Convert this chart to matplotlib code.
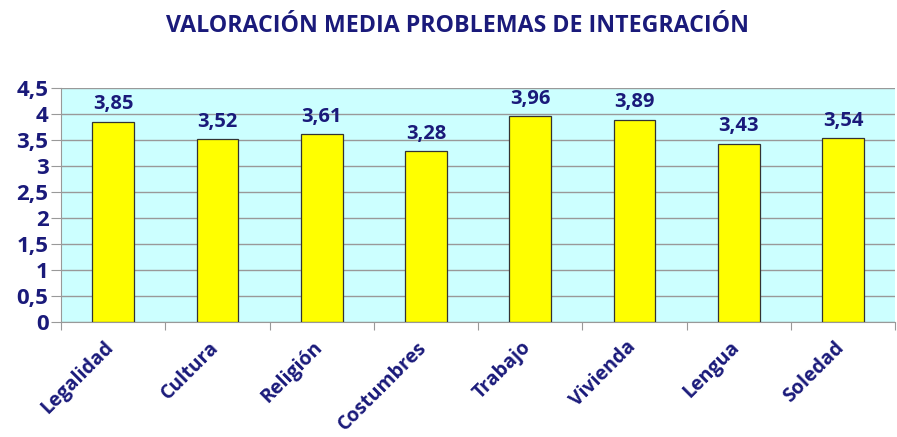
import numpy as np
import matplotlib.pyplot as plt
from matplotlib.transforms import ScaledTranslation

categorias = ["Legalidad", "Cultura", "Religión", "Costumbres", "Trabajo", "Vivienda", "Lengua", "Soledad"]
valores = [3.85, 3.52, 3.61, 3.28, 3.96, 3.89, 3.43, 3.54]
yticks = [0, 0.5, 1, 1.5, 2, 2.5, 3, 3.5, 4, 4.5]

azul = "#1a1a7a"
plt.rcParams['font.family'] = ['Open Sans', 'DejaVu Sans']

fig = plt.figure(figsize=(8.97, 4.37), dpi=100)
ax = fig.add_axes([0.068, 0.263, 0.930, 0.536])
ax.set_facecolor("#ccffff")

x = np.arange(len(categorias))
ax.bar(x, valores, width=0.4, color="#ffff00", edgecolor="#333333", linewidth=0.9, zorder=3)

for xi, v in zip(x, valores):
    ax.text(xi, v + 0.14, f"{v:.2f}".replace(".", ","), ha="center", va="bottom",
            fontsize=14.5, fontweight="bold", color=azul)

ax.set_xlim(-0.5, len(categorias) - 0.5)
ax.set_ylim(0, 4.5)
ax.set_yticks(yticks)
ax.set_yticklabels([f"{t:g}".replace(".", ",") for t in yticks],
                   fontsize=16, fontweight="bold", color=azul)
ax.yaxis.grid(True, color="#999999", linewidth=1, zorder=0)
ax.tick_params(axis="y", length=7, color="#999999", pad=2)

# ticks de categoría en los bordes, etiquetas centradas
ax.set_xticks(np.arange(len(categorias) + 1) - 0.5)
ax.set_xticklabels([])
ax.set_xticks(x, minor=True)
ax.set_xticklabels(categorias, minor=True, rotation=45, ha="right", rotation_mode="anchor",
                   fontsize=14, fontweight="bold", color=azul)
ax.tick_params(axis="x", which="major", length=6, color="#999999")
ax.tick_params(axis="x", which="minor", length=0, pad=11)
desplaza = ScaledTranslation(-0.09, 0, fig.dpi_scale_trans)
for lbl in ax.get_xticklabels(minor=True):
    lbl.set_transform(lbl.get_transform() + desplaza)

for s in ["top", "right"]:
    ax.spines[s].set_visible(False)
ax.spines["left"].set_color("#999999")
ax.spines["bottom"].set_color("#999999")

fig.suptitle("VALORACIÓN MEDIA PROBLEMAS DE INTEGRACIÓN", x=0.51, y=0.968,
             fontsize=16.7, fontweight="bold", color=azul)

fig.savefig("out.png", dpi=100)
